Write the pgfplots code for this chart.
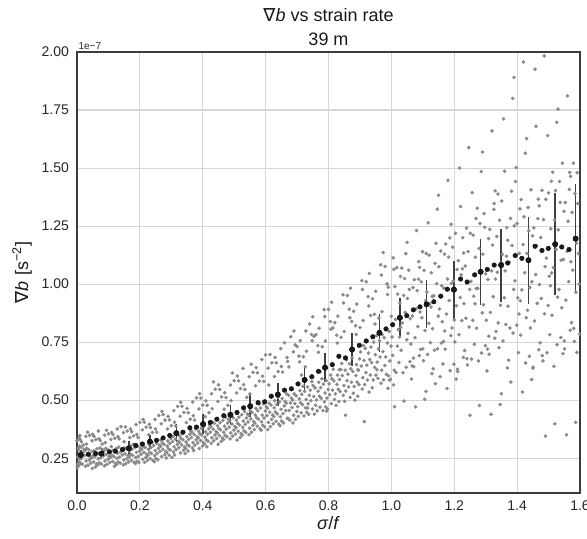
\documentclass[border=0pt]{standalone}
\usepackage{fontspec}
\setmainfont{Liberation Sans}
\newfontfamily\dejavu{DejaVu Sans}
\usepackage{pgfplots}
\pgfplotsset{compat=1.18}
\usetikzlibrary{calc}
\definecolor{gridgray}{HTML}{D6D6D6}
\definecolor{spine}{HTML}{3C3C3C}
\definecolor{ptgray}{HTML}{8A8A8A}
\begin{document}
\begin{tikzpicture}
\begin{axis}[
  scale only axis, width=377.25pt, height=330.75pt,
  xmin=0, xmax=1.6, ymin=0.1, ymax=2.0,
  xtick={0,0.2,0.4,0.6,0.8,1.0,1.2,1.4,1.6},
  ytick={0.25,0.5,0.75,1.0,1.25,1.5,1.75,2.0},
  grid=major, major grid style={draw=gridgray, line width=0.8pt},
  axis line style={draw=spine, line width=1pt},
  tick style={draw=none},
  /pgf/number format/assume math mode=true,
  xticklabel style={/pgf/number format/fixed, /pgf/number format/fixed zerofill, /pgf/number format/precision=1, yshift=-2pt},
  yticklabel style={/pgf/number format/fixed, /pgf/number format/fixed zerofill, /pgf/number format/precision=2, xshift=-2.5pt},
  ticklabel style={font=\fontsize{10.5}{12}\selectfont, text=black!85},
]
\coordinate (sw) at (rel axis cs:0,0);
\coordinate (ne) at (rel axis cs:1,1);
% scatter cloud (values in units of 1e-7)
\addplot[only marks, color=ptgray, mark=*, mark size=1.15pt, mark options={draw=none, fill=ptgray}] coordinates {
(0.009,0.262)(0.002,0.224)(0.005,0.285)(0.007,0.247)(0.001,0.209)(0.010,0.271)(0.008,0.233)(0.004,0.294)(0.003,0.256)(0.006,0.218)(0.009,0.348)(0.000,0.325)(0.008,0.302)(0.006,0.339)
(0.011,0.229)(0.022,0.289)(0.015,0.252)(0.027,0.215)(0.019,0.275)(0.029,0.238)(0.013,0.298)(0.024,0.261)(0.017,0.224)(0.026,0.284)(0.010,0.330)(0.020,0.307)(0.028,0.344)(0.014,0.321)
(0.031,0.293)(0.042,0.256)(0.035,0.220)(0.047,0.279)(0.039,0.242)(0.049,0.206)(0.033,0.265)(0.044,0.229)(0.037,0.287)(0.046,0.251)(0.030,0.311)(0.040,0.348)(0.048,0.325)(0.034,0.362)
(0.051,0.261)(0.062,0.226)(0.055,0.283)(0.067,0.247)(0.059,0.212)(0.069,0.269)(0.053,0.234)(0.064,0.291)(0.057,0.256)(0.066,0.221)(0.050,0.353)(0.060,0.330)(0.068,0.367)(0.054,0.344)
(0.071,0.230)(0.082,0.286)(0.075,0.252)(0.087,0.217)(0.079,0.273)(0.089,0.238)(0.073,0.294)(0.084,0.260)(0.077,0.225)(0.086,0.281)(0.070,0.334)(0.080,0.311)(0.088,0.349)(0.074,0.326)
(0.091,0.292)(0.102,0.258)(0.095,0.223)(0.107,0.279)(0.099,0.245)(0.109,0.300)(0.093,0.266)(0.104,0.231)(0.097,0.287)(0.106,0.253)(0.090,0.317)(0.100,0.355)(0.108,0.331)(0.094,0.370)
(0.111,0.263)(0.122,0.228)(0.115,0.284)(0.127,0.250)(0.119,0.215)(0.129,0.271)(0.113,0.236)(0.124,0.292)(0.117,0.257)(0.126,0.223)(0.110,0.361)(0.120,0.336)(0.128,0.376)(0.114,0.352)
(0.131,0.234)(0.142,0.290)(0.135,0.255)(0.147,0.221)(0.139,0.277)(0.149,0.242)(0.133,0.298)(0.144,0.264)(0.137,0.229)(0.146,0.285)(0.130,0.343)(0.140,0.386)(0.148,0.360)(0.134,0.333)
(0.151,0.295)(0.162,0.261)(0.155,0.226)(0.167,0.282)(0.159,0.247)(0.169,0.303)(0.153,0.269)(0.164,0.234)(0.157,0.290)(0.166,0.255)(0.150,0.321)(0.160,0.367)(0.168,0.339)(0.154,0.385)
(0.171,0.267)(0.182,0.232)(0.175,0.288)(0.187,0.253)(0.179,0.309)(0.189,0.275)(0.173,0.240)(0.184,0.296)(0.177,0.262)(0.186,0.227)(0.170,0.376)(0.180,0.346)(0.188,0.395)(0.174,0.364)
(0.191,0.237)(0.202,0.293)(0.195,0.258)(0.207,0.314)(0.199,0.280)(0.209,0.245)(0.193,0.301)(0.204,0.267)(0.197,0.232)(0.206,0.288)(0.190,0.352)(0.200,0.404)(0.208,0.372)(0.194,0.339)
(0.211,0.301)(0.222,0.267)(0.215,0.232)(0.227,0.288)(0.219,0.253)(0.229,0.309)(0.213,0.275)(0.224,0.240)(0.217,0.296)(0.226,0.262)(0.210,0.417)(0.220,0.384)(0.228,0.351)(0.214,0.405)
(0.231,0.275)(0.242,0.240)(0.235,0.296)(0.247,0.261)(0.239,0.317)(0.249,0.283)(0.233,0.248)(0.244,0.304)(0.237,0.270)(0.246,0.235)(0.230,0.396)(0.240,0.361)(0.248,0.417)(0.234,0.382)
(0.251,0.248)(0.262,0.306)(0.255,0.270)(0.267,0.328)(0.259,0.292)(0.269,0.257)(0.253,0.314)(0.264,0.279)(0.257,0.243)(0.266,0.301)(0.250,0.376)(0.260,0.434)(0.268,0.398)(0.254,0.362)
(0.271,0.315)(0.282,0.279)(0.275,0.338)(0.287,0.302)(0.279,0.265)(0.289,0.324)(0.273,0.288)(0.284,0.251)(0.277,0.310)(0.286,0.274)(0.270,0.452)(0.280,0.414)(0.288,0.376)(0.274,0.438)
(0.291,0.290)(0.302,0.254)(0.295,0.313)(0.307,0.277)(0.299,0.335)(0.309,0.299)(0.293,0.263)(0.304,0.321)(0.297,0.285)(0.306,0.344)(0.290,0.430)(0.300,0.390)(0.308,0.455)(0.294,0.415)
(0.311,0.264)(0.322,0.323)(0.315,0.287)(0.327,0.346)(0.319,0.309)(0.329,0.273)(0.313,0.332)(0.324,0.295)(0.317,0.354)(0.326,0.318)(0.310,0.405)(0.320,0.473)(0.328,0.431)(0.314,0.389)
(0.331,0.334)(0.342,0.298)(0.335,0.357)(0.347,0.320)(0.339,0.284)(0.349,0.343)(0.333,0.307)(0.344,0.270)(0.337,0.329)(0.346,0.293)(0.330,0.491)(0.340,0.447)(0.348,0.403)(0.334,0.474)
(0.351,0.308)(0.362,0.367)(0.355,0.331)(0.367,0.294)(0.359,0.353)(0.369,0.317)(0.353,0.281)(0.364,0.339)(0.357,0.303)(0.366,0.362)(0.350,0.464)(0.360,0.418)(0.368,0.492)(0.354,0.446)
(0.371,0.283)(0.382,0.343)(0.375,0.306)(0.387,0.366)(0.379,0.329)(0.389,0.292)(0.373,0.352)(0.384,0.315)(0.377,0.375)(0.386,0.338)(0.370,0.433)(0.380,0.510)(0.388,0.462)(0.374,0.414)
(0.391,0.355)(0.402,0.317)(0.395,0.379)(0.407,0.341)(0.399,0.302)(0.409,0.364)(0.393,0.326)(0.404,0.388)(0.397,0.350)(0.406,0.311)(0.390,0.528)(0.400,0.479)(0.408,0.429)(0.394,0.509)
(0.411,0.329)(0.422,0.392)(0.415,0.353)(0.427,0.314)(0.419,0.377)(0.429,0.338)(0.413,0.299)(0.424,0.362)(0.417,0.323)(0.426,0.386)(0.410,0.497)(0.420,0.446)(0.428,0.528)(0.414,0.478)
(0.431,0.405)(0.442,0.365)(0.435,0.325)(0.447,0.390)(0.439,0.350)(0.449,0.310)(0.433,0.375)(0.444,0.335)(0.437,0.400)(0.446,0.359)(0.430,0.463)(0.440,0.547)(0.448,0.495)(0.434,0.579)
(0.451,0.378)(0.462,0.337)(0.455,0.403)(0.467,0.362)(0.459,0.322)(0.469,0.388)(0.453,0.347)(0.464,0.413)(0.457,0.372)(0.466,0.331)(0.450,0.566)(0.460,0.514)(0.468,0.461)(0.454,0.546)
(0.471,0.349)(0.482,0.417)(0.475,0.375)(0.487,0.333)(0.479,0.401)(0.489,0.359)(0.473,0.426)(0.484,0.384)(0.477,0.342)(0.486,0.410)(0.470,0.532)(0.480,0.478)(0.488,0.565)(0.474,0.511)
(0.491,0.430)(0.502,0.387)(0.495,0.345)(0.507,0.414)(0.499,0.371)(0.509,0.328)(0.493,0.397)(0.504,0.354)(0.497,0.424)(0.506,0.381)(0.490,0.498)(0.500,0.584)(0.508,0.531)(0.494,0.617)
(0.511,0.400)(0.522,0.356)(0.515,0.427)(0.527,0.383)(0.519,0.339)(0.529,0.410)(0.513,0.366)(0.524,0.437)(0.517,0.393)(0.526,0.349)(0.510,0.604)(0.520,0.550)(0.528,0.637)(0.514,0.583)
(0.531,0.368)(0.542,0.440)(0.535,0.396)(0.547,0.351)(0.539,0.423)(0.549,0.379)(0.533,0.451)(0.544,0.406)(0.537,0.361)(0.546,0.434)(0.530,0.567)(0.540,0.512)(0.548,0.601)(0.534,0.546)
(0.551,0.454)(0.562,0.408)(0.555,0.362)(0.567,0.436)(0.559,0.391)(0.569,0.465)(0.553,0.419)(0.564,0.373)(0.557,0.447)(0.566,0.401)(0.550,0.527)(0.560,0.620)(0.568,0.562)(0.554,0.655)
(0.571,0.425)(0.582,0.377)(0.575,0.454)(0.587,0.407)(0.579,0.484)(0.589,0.436)(0.573,0.388)(0.584,0.466)(0.577,0.418)(0.586,0.370)(0.570,0.640)(0.580,0.582)(0.588,0.675)(0.574,0.618)
(0.591,0.392)(0.602,0.472)(0.595,0.423)(0.607,0.373)(0.599,0.453)(0.609,0.404)(0.593,0.484)(0.604,0.434)(0.597,0.385)(0.606,0.465)(0.590,0.603)(0.600,0.695)(0.608,0.638)(0.594,0.581)
(0.611,0.487)(0.622,0.436)(0.615,0.386)(0.627,0.467)(0.619,0.417)(0.629,0.498)(0.613,0.448)(0.624,0.398)(0.617,0.479)(0.626,0.429)(0.610,0.565)(0.620,0.661)(0.628,0.602)(0.614,0.697)
(0.631,0.449)(0.642,0.397)(0.635,0.481)(0.647,0.429)(0.639,0.512)(0.649,0.461)(0.633,0.409)(0.644,0.493)(0.637,0.441)(0.646,0.390)(0.630,0.684)(0.640,0.623)(0.648,0.722)(0.634,0.661)
(0.651,0.410)(0.662,0.495)(0.655,0.442)(0.667,0.527)(0.659,0.475)(0.669,0.422)(0.653,0.507)(0.664,0.455)(0.657,0.402)(0.666,0.487)(0.650,0.645)(0.660,0.747)(0.668,0.684)(0.654,0.621)
(0.671,0.422)(0.682,0.509)(0.675,0.455)(0.687,0.402)(0.679,0.488)(0.689,0.435)(0.673,0.521)(0.684,0.468)(0.677,0.414)(0.686,0.501)(0.670,0.667)(0.680,0.773)(0.688,0.708)(0.674,0.643)
(0.691,0.527)(0.702,0.472)(0.695,0.417)(0.707,0.506)(0.699,0.451)(0.709,0.541)(0.693,0.485)(0.704,0.430)(0.697,0.519)(0.706,0.690)(0.690,0.798)(0.700,0.731)(0.708,0.665)(0.694,0.738)
(0.711,0.489)(0.722,0.432)(0.715,0.525)(0.727,0.467)(0.719,0.560)(0.729,0.503)(0.713,0.446)(0.724,0.538)(0.717,0.481)(0.726,0.644)(0.710,0.756)(0.720,0.687)(0.728,0.798)(0.714,0.608)
(0.731,0.448)(0.742,0.543)(0.735,0.484)(0.747,0.580)(0.739,0.521)(0.749,0.462)(0.733,0.557)(0.744,0.498)(0.737,0.439)(0.746,0.783)(0.730,0.711)(0.740,0.828)(0.748,0.756)(0.734,0.466)
(0.751,0.563)(0.762,0.501)(0.755,0.440)(0.767,0.539)(0.759,0.478)(0.769,0.577)(0.753,0.516)(0.764,0.454)(0.757,0.553)(0.766,0.735)(0.750,0.859)(0.760,0.782)(0.768,0.706)(0.754,0.775)
(0.771,0.517)(0.782,0.455)(0.775,0.554)(0.787,0.493)(0.779,0.592)(0.789,0.531)(0.773,0.470)(0.784,0.569)(0.777,0.508)(0.786,0.890)(0.770,0.810)(0.780,0.730)(0.788,0.860)(0.774,0.623)
(0.791,0.471)(0.802,0.570)(0.795,0.509)(0.807,0.608)(0.799,0.546)(0.809,0.485)(0.793,0.584)(0.804,0.523)(0.797,0.462)(0.806,0.839)(0.790,0.755)(0.800,0.891)(0.808,0.806)(0.794,0.453)
(0.811,0.592)(0.822,0.527)(0.815,0.633)(0.827,0.568)(0.819,0.503)(0.829,0.608)(0.813,0.543)(0.824,0.478)(0.817,0.583)(0.826,0.780)(0.810,0.922)(0.820,0.834)(0.828,0.746)(0.814,0.811)
(0.831,0.547)(0.842,0.658)(0.835,0.589)(0.847,0.521)(0.839,0.632)(0.849,0.563)(0.833,0.494)(0.844,0.606)(0.837,0.537)(0.846,0.954)(0.830,0.862)(0.840,0.771)(0.848,0.919)(0.834,0.631)
(0.851,0.495)(0.862,0.612)(0.855,0.539)(0.867,0.657)(0.859,0.584)(0.869,0.512)(0.853,0.629)(0.864,0.557)(0.857,0.674)(0.866,0.892)(0.850,0.796)(0.860,0.951)(0.868,0.855)(0.854,0.435)
(0.871,0.635)(0.882,0.559)(0.875,0.682)(0.887,0.606)(0.879,0.530)(0.889,0.653)(0.873,0.577)(0.884,0.500)(0.877,0.624)(0.886,0.821)(0.870,0.982)(0.880,0.883)(0.888,0.783)(0.874,0.839)
(0.891,0.578)(0.902,0.708)(0.895,0.628)(0.907,0.548)(0.899,0.678)(0.909,0.597)(0.893,0.517)(0.904,0.647)(0.897,0.567)(0.906,1.015)(0.890,0.914)(0.900,0.813)(0.908,0.977)(0.894,0.632)
(0.911,0.735)(0.922,0.651)(0.915,0.567)(0.927,0.703)(0.919,0.619)(0.929,0.535)(0.913,0.671)(0.924,0.587)(0.917,0.723)(0.926,0.946)(0.910,0.843)(0.920,1.010)(0.928,0.906)(0.914,0.408)
(0.931,0.675)(0.942,0.587)(0.935,0.729)(0.947,0.641)(0.939,0.553)(0.949,0.696)(0.933,0.608)(0.944,0.750)(0.937,0.662)(0.946,0.870)(0.930,1.046)(0.940,0.937)(0.948,0.828)(0.934,0.865)
(0.951,0.608)(0.962,0.756)(0.955,0.664)(0.967,0.573)(0.959,0.721)(0.969,0.629)(0.953,0.778)(0.964,0.686)(0.957,0.594)(0.966,1.083)(0.950,0.969)(0.960,0.854)(0.968,1.039)(0.954,0.631)
(0.971,0.783)(0.982,0.686)(0.975,0.588)(0.987,0.746)(0.979,0.649)(0.989,0.551)(0.973,0.709)(0.984,0.611)(0.977,0.769)(0.986,1.001)(0.970,0.881)(0.980,1.076)(0.988,0.955)(0.974,1.136)
(0.991,0.605)(1.002,0.772)(0.995,0.669)(1.007,0.566)(0.999,0.733)(1.009,0.629)(0.993,0.796)(1.004,0.693)(0.997,0.590)(1.006,1.113)(0.990,0.987)(1.000,0.861)(1.008,1.064)(0.994,0.586)
(1.011,0.989)(1.022,0.804)(1.015,0.619)(1.027,0.918)(1.019,0.733)(1.029,1.033)(1.013,0.848)(1.024,0.662)(1.017,1.071)(1.026,0.772)(1.010,0.472)(1.020,0.957)
(1.031,0.715)(1.042,1.024)(1.035,0.833)(1.047,0.642)(1.039,0.951)(1.049,0.760)(1.033,1.069)(1.044,0.878)(1.037,0.618)(1.046,1.131)(1.030,0.814)(1.040,0.496)
(1.051,0.938)(1.062,0.742)(1.055,1.060)(1.067,0.863)(1.059,0.666)(1.069,0.985)(1.053,0.788)(1.064,0.591)(1.057,0.977)(1.066,0.648)(1.050,1.180)(1.060,0.851)
(1.071,0.644)(1.082,0.972)(1.075,0.769)(1.087,1.097)(1.079,0.894)(1.089,0.692)(1.073,1.019)(1.084,0.817)(1.077,0.471)(1.086,1.021)(1.070,0.681)(1.080,1.231)
(1.091,0.880)(1.102,0.670)(1.095,1.010)(1.107,0.800)(1.099,1.140)(1.109,0.929)(1.093,0.719)(1.104,1.059)(1.097,0.855)(1.106,0.504)(1.090,1.072)(1.100,0.721)
(1.111,1.132)(1.122,0.915)(1.115,0.697)(1.127,1.049)(1.119,0.831)(1.129,0.614)(1.113,0.966)(1.124,0.748)(1.117,1.264)(1.126,0.901)(1.110,0.538)(1.120,1.125)
(1.131,0.808)(1.142,1.176)(1.135,0.949)(1.147,0.721)(1.139,1.089)(1.149,0.862)(1.133,0.635)(1.144,1.002)(1.137,0.715)(1.146,1.323)(1.130,0.947)(1.140,0.571)
(1.151,1.075)(1.162,0.838)(1.155,0.601)(1.167,0.983)(1.159,0.746)(1.169,1.129)(1.153,0.893)(1.164,0.656)(1.157,1.142)(1.166,0.753)(1.150,1.383)(1.160,0.993)
(1.171,0.720)(1.182,1.116)(1.175,0.871)(1.187,0.627)(1.179,1.022)(1.189,0.778)(1.173,1.173)(1.184,0.929)(1.177,0.550)(1.186,1.199)(1.170,0.798)(1.180,1.447)
(1.191,1.003)(1.202,0.751)(1.195,1.159)(1.207,0.907)(1.199,0.655)(1.209,1.063)(1.193,0.811)(1.204,1.219)(1.197,1.013)(1.206,0.591)(1.190,1.258)(1.200,0.846)
(1.211,0.623)(1.222,1.040)(1.215,0.782)(1.227,1.200)(1.219,0.942)(1.229,0.684)(1.213,1.101)(1.224,0.843)(1.217,1.500)(1.226,1.066)(1.210,0.633)(1.220,1.334)
(1.231,0.915)(1.242,0.652)(1.235,1.078)(1.247,0.815)(1.239,1.241)(1.249,0.977)(1.233,0.714)(1.244,1.140)(1.237,0.853)(1.246,1.588)(1.230,1.134)(1.240,0.679)
(1.251,1.219)(1.262,0.948)(1.255,0.677)(1.267,1.116)(1.259,0.844)(1.269,1.283)(1.253,1.012)(1.264,0.741)(1.257,1.394)(1.266,0.915)(1.250,0.435)(1.260,1.211)
(1.271,0.810)(1.282,1.261)(1.275,0.982)(1.287,0.703)(1.279,1.154)(1.289,0.876)(1.273,1.327)(1.284,1.048)(1.277,0.669)(1.286,1.485)(1.270,0.981)(1.280,0.477)
(1.291,1.129)(1.302,0.844)(1.295,1.304)(1.307,1.020)(1.299,0.735)(1.309,1.196)(1.293,0.911)(1.304,0.626)(1.297,1.245)(1.306,0.720)(1.290,1.569)(1.300,1.044)
(1.311,0.698)(1.322,1.168)(1.315,0.878)(1.327,1.347)(1.319,1.057)(1.329,0.767)(1.313,1.236)(1.324,0.946)(1.317,0.439)(1.326,1.322)(1.310,0.776)(1.320,1.660)
(1.331,1.022)(1.342,0.726)(1.335,1.205)(1.347,0.909)(1.339,1.388)(1.349,1.092)(1.333,0.796)(1.344,1.275)(1.337,1.051)(1.346,0.481)(1.330,1.402)(1.340,0.833)
(1.351,1.358)(1.362,1.057)(1.355,0.755)(1.367,1.243)(1.359,0.941)(1.369,0.639)(1.353,1.128)(1.364,0.826)(1.357,1.712)(1.366,1.120)(1.350,0.528)(1.360,1.486)
(1.371,0.905)(1.382,1.400)(1.375,1.094)(1.387,0.789)(1.379,1.283)(1.389,0.977)(1.373,0.672)(1.384,1.166)(1.377,0.811)(1.386,1.800)(1.370,1.189)(1.380,0.578)
(1.391,1.251)(1.402,0.941)(1.395,1.442)(1.407,1.132)(1.399,0.823)(1.409,1.324)(1.393,1.014)(1.404,0.705)(1.397,1.502)(1.406,0.871)(1.390,1.891)(1.400,1.261)
(1.411,0.780)(1.422,1.290)(1.415,0.975)(1.427,0.660)(1.419,1.170)(1.429,0.855)(1.413,1.364)(1.424,1.049)(1.417,0.535)(1.426,1.564)(1.410,0.928)(1.420,1.957)
(1.431,1.132)(1.442,0.811)(1.435,1.330)(1.447,1.010)(1.439,0.689)(1.449,1.208)(1.433,0.887)(1.444,1.406)(1.437,1.230)(1.446,0.589)(1.430,1.627)(1.440,0.985)
(1.451,0.642)(1.462,1.165)(1.455,0.841)(1.467,1.366)(1.459,1.041)(1.469,0.717)(1.453,1.242)(1.464,0.917)(1.457,1.926)(1.466,1.282)(1.450,0.638)(1.460,1.680)
(1.471,0.998)(1.482,0.669)(1.475,1.201)(1.487,0.872)(1.479,1.404)(1.489,1.075)(1.473,0.747)(1.484,1.278)(1.477,0.938)(1.486,1.983)(1.470,1.337)(1.480,0.692)
(1.491,1.365)(1.502,1.034)(1.495,0.704)(1.507,1.238)(1.499,0.908)(1.509,1.443)(1.493,1.112)(1.504,0.782)(1.497,1.640)(1.506,0.993)(1.490,0.345)(1.500,1.393)
(1.511,0.866)(1.522,1.403)(1.515,1.071)(1.527,0.739)(1.519,1.276)(1.529,0.944)(1.513,1.482)(1.524,1.149)(1.517,0.646)(1.526,1.697)(1.510,1.048)(1.520,0.398)
(1.531,1.234)(1.542,0.898)(1.535,1.442)(1.547,1.106)(1.539,0.770)(1.549,1.314)(1.533,0.977)(1.544,1.521)(1.537,1.352)(1.546,0.700)(1.530,1.754)(1.540,1.103)
(1.551,0.721)(1.562,1.271)(1.555,0.931)(1.567,1.481)(1.559,1.141)(1.569,0.801)(1.553,1.351)(1.564,1.011)(1.557,0.351)(1.566,1.408)(1.550,0.755)(1.560,1.811)
(1.571,1.096)(1.582,0.753)(1.575,1.309)(1.587,0.965)(1.579,1.521)(1.589,1.177)(1.573,0.834)(1.584,1.390)(1.577,1.060)(1.586,0.404)(1.570,1.464)(1.580,0.809)
(1.591,1.480)(1.595,1.132)(1.599,0.785)(1.593,1.347)(1.597,1.000)(1.590,0.706)
};
% error bars
\addplot[only marks, mark=none, error bars/.cd, y dir=both, y explicit, error mark=none, error bar style={draw=black!75, line width=1.2pt}] coordinates {
(0.012,0.264) +- (0,0.021)
(0.078,0.270) +- (0,0.022)
(0.165,0.293) +- (0,0.029)
(0.232,0.321) +- (0,0.031)
(0.316,0.358) +- (0,0.039)
(0.401,0.397) +- (0,0.043)
(0.488,0.437) +- (0,0.044)
(0.551,0.474) +- (0,0.047)
(0.639,0.524) +- (0,0.050)
(0.724,0.587) +- (0,0.050)
(0.789,0.640) +- (0,0.063)
(0.875,0.718) +- (0,0.072)
(0.962,0.790) +- (0,0.081)
(1.027,0.855) +- (0,0.086)
(1.112,0.913) +- (0,0.104)
(1.199,0.976) +- (0,0.125)
(1.284,1.053) +- (0,0.143)
(1.349,1.082) +- (0,0.157)
(1.436,1.103) +- (0,0.187)
(1.521,1.172) +- (0,0.220)
(1.586,1.196) +- (0,0.234)
};
% binned means
\addplot[only marks, color=black!90, mark=*, mark size=1.7pt, mark options={draw=none, fill=black!90}] coordinates {
(0.012,0.264)(0.036,0.267)(0.059,0.270)(0.078,0.270)(0.103,0.277)(0.122,0.280)(0.145,0.287)(0.165,0.293)
(0.187,0.305)(0.208,0.311)(0.232,0.321)(0.253,0.327)(0.274,0.337)(0.295,0.348)(0.316,0.358)(0.337,0.362)
(0.359,0.381)(0.380,0.384)(0.401,0.397)(0.424,0.404)(0.445,0.418)(0.467,0.433)(0.488,0.437)(0.509,0.447)
(0.530,0.467)(0.551,0.474)(0.576,0.489)(0.597,0.493)(0.618,0.517)(0.639,0.524)(0.660,0.543)(0.682,0.549)
(0.703,0.570)(0.724,0.587)(0.747,0.601)(0.768,0.624)(0.789,0.640)(0.812,0.653)(0.833,0.689)(0.854,0.682)
(0.875,0.718)(0.898,0.736)(0.920,0.755)(0.941,0.773)(0.962,0.790)(0.983,0.807)(1.004,0.825)(1.027,0.855)
(1.049,0.864)(1.070,0.889)(1.091,0.902)(1.112,0.913)(1.135,0.924)(1.157,0.948)(1.178,0.978)(1.199,0.976)
(1.220,1.022)(1.241,1.009)(1.265,1.040)(1.284,1.053)(1.305,1.063)(1.327,1.082)(1.349,1.082)(1.370,1.091)
(1.394,1.123)(1.415,1.111)(1.436,1.103)(1.457,1.163)(1.479,1.145)(1.499,1.154)(1.521,1.172)(1.542,1.160)
(1.565,1.149)(1.586,1.196)
};
\end{axis}
% offset text
\node[anchor=base west, inner sep=0pt, font=\fontsize{7.5}{9}\selectfont, text=black!85] at ([xshift=1pt,yshift=1.5pt]sw |- ne) {1e−7};
% title
\node[anchor=base, inner sep=0pt, font=\fontsize{13.5}{16}\selectfont, text=black!90] at ([yshift=4.5pt]$(sw |- ne)!0.5!(ne)$) {39 m};
\node[anchor=base, inner sep=0pt, font=\fontsize{13.5}{16}\selectfont, text=black!90] at ([yshift=22.5pt]$(sw |- ne)!0.5!(ne)$) {{\dejavu ∇}\textit{b} vs strain rate};
% axis labels
\node[anchor=center, inner sep=0pt, font=\fontsize{13.5}{16}\selectfont, text=black!90] at ([yshift=-22.5pt]$(sw)!0.5!(sw -| ne)$) {\textit{σ}/\textit{f}};
\node[anchor=center, rotate=90, inner sep=0pt, font=\fontsize{13.5}{16}\selectfont, text=black!90] at ([xshift=-41.25pt]$(sw)!0.5!(sw |- ne)$) {{\dejavu ∇}\textit{b} [s\textsuperscript{−2}]};
\pgfresetboundingbox
\path ($(sw)+(-57.75pt,-33.75pt)$) rectangle ($(ne)+(5.25pt,39pt)$);
\end{tikzpicture}
\end{document}
